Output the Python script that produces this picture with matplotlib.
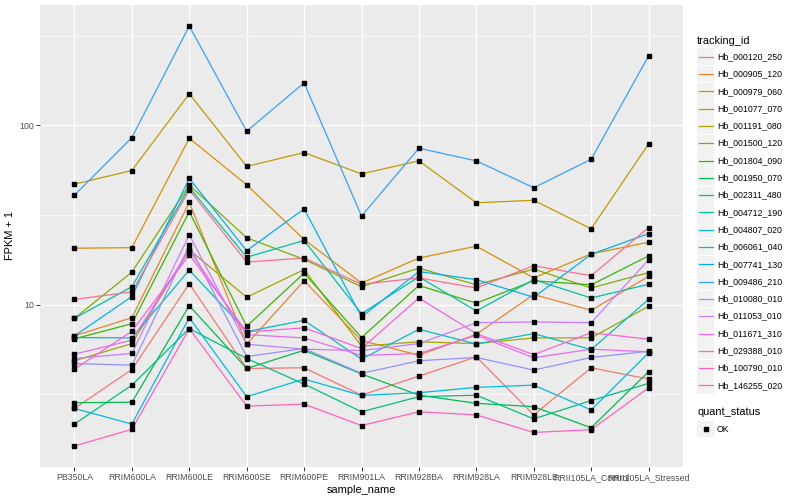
import matplotlib
matplotlib.use("Agg")
import matplotlib.pyplot as plt
from matplotlib.patches import Rectangle
from matplotlib.lines import Line2D
from matplotlib.ticker import FixedLocator, NullFormatter
import numpy as np

plt.rcParams['font.family'] = ['Liberation Sans', 'DejaVu Sans']

samples = ["PB350LA", "RRIM600LA", "RRIM600LE", "RRIM600SE", "RRIM600PE", "RRIM901LA",
           "RRIM928BA", "RRIM928LA", "RRIM928LE", "RRII105LA_Control", "RRII105LA_Stressed"]

tracking_ids = ["Hb_000120_250", "Hb_000905_120", "Hb_000979_060", "Hb_001077_070",
                "Hb_001191_080", "Hb_001500_120", "Hb_001804_090", "Hb_001950_070",
                "Hb_002311_480", "Hb_004712_190", "Hb_004807_020", "Hb_006061_040",
                "Hb_007741_130", "Hb_009486_210", "Hb_010080_010", "Hb_011053_010",
                "Hb_011671_310", "Hb_029388_010", "Hb_100790_010", "Hb_146255_020"]

colors = ["#F8766D", "#EA8331", "#D89000", "#C09B00", "#A3A500", "#7CAE00", "#39B600",
          "#00BB4E", "#00BF7D", "#00C1A3", "#00BFC4", "#00BAE0", "#00B0F6", "#35A2FF",
          "#9590FF", "#C77CFF", "#E76BF3", "#FA62DB", "#FF62BC", "#FF6C91"]

# FPKM + 1 values, one list per tracking_id (order = samples)
hb_000120_250 = [2.64, 4.35, 13.1, 4.41, 4.45, 3.13, 4.00, 5.12, 2.43, 4.45, 3.85]
hb_000905_120 = [6.70, 8.47, 37.2, 6.02, 13.6, 6.31, 5.23, 6.84, 11.4, 9.30, 14.4]
hb_000979_060 = [20.65, 20.8, 84.7, 46.6, 23.1, 13.2, 18.2, 21.2, 14.1, 19.2, 22.3]
hb_001077_070 = [47.0, 56.0, 150.0, 59.0, 70.5, 53.6, 63.4, 37.0, 38.2, 26.5, 78.7]
hb_001191_080 = [4.87, 6.07, 20.2, 11.0, 15.7, 5.87, 6.21, 6.07, 6.53, 6.53, 9.79]
hb_001500_120 = [8.39, 15.2, 46.4, 23.6, 17.9, 12.6, 16.0, 12.9, 15.8, 12.4, 15.1]
hb_001804_090 = [6.45, 7.84, 33.0, 7.57, 15.0, 6.56, 12.8, 10.2, 13.6, 12.9, 18.7]
hb_001950_070 = [2.84, 2.86, 9.87, 4.41, 5.57, 4.11, 3.13, 2.82, 2.70, 2.06, 4.23]
hb_002311_480 = [2.16, 3.56, 7.36, 5.01, 3.61, 2.53, 3.07, 3.13, 2.31, 2.92, 3.64]
hb_004712_190 = [8.39, 12.6, 45.1, 18.4, 22.8, 8.91, 14.3, 9.23, 13.8, 10.9, 13.0]
hb_004807_020 = [6.56, 6.53, 15.6, 7.08, 8.18, 4.97, 7.29, 6.04, 6.90, 5.62, 10.7]
hb_006061_040 = [2.64, 2.16, 8.47, 3.07, 3.85, 3.12, 3.23, 3.46, 3.56, 2.59, 5.39]
hb_007741_130 = [6.70, 11.1, 50.6, 20.0, 34.2, 8.55, 15.3, 13.8, 11.0, 19.1, 24.9]
hb_009486_210 = [40.8, 85.5, 358.0, 92.7, 172.6, 31.2, 74.5, 63.4, 44.9, 64.7, 243.8]
hb_010080_010 = [4.70, 4.60, 21.4, 5.14, 5.70, 4.14, 4.87, 5.08, 4.32, 5.08, 5.50]
hb_011053_010 = [5.01, 5.35, 24.5, 6.02, 5.65, 5.55, 6.07, 7.94, 8.01, 7.94, 17.8]
hb_011671_310 = [5.30, 6.34, 20.2, 6.81, 6.53, 5.21, 5.35, 6.75, 5.06, 5.65, 5.46]
hb_029388_010 = [4.37, 7.11, 19.0, 7.05, 7.43, 5.70, 10.9, 6.90, 5.27, 6.98, 6.42]
hb_100790_010 = [1.63, 2.02, 7.36, 2.72, 2.79, 2.12, 2.53, 2.43, 1.94, 2.01, 3.44]
hb_146255_020 = [10.7, 11.8, 43.7, 17.3, 18.2, 13.0, 14.1, 12.4, 16.5, 14.5, 26.9]

series = [hb_000120_250, hb_000905_120, hb_000979_060, hb_001077_070, hb_001191_080,
          hb_001500_120, hb_001804_090, hb_001950_070, hb_002311_480, hb_004712_190,
          hb_004807_020, hb_006061_040, hb_007741_130, hb_009486_210, hb_010080_010,
          hb_011053_010, hb_011671_310, hb_029388_010, hb_100790_010, hb_146255_020]

W, H = 800, 500
fig = plt.figure(figsize=(W / 100, H / 100), dpi=100)
fig.patch.set_facecolor("white")


def fx(x):
    return x / W


def fy(y):
    return 1 - y / H


pl, pr, pt, pb = 40, 683, 5, 467
ax = fig.add_axes([fx(pl), fy(pb), fx(pr - pl), (pb - pt) / H])
ax.set_facecolor("#EBEBEB")
for s in ax.spines.values():
    s.set_visible(False)

x = np.arange(len(samples))
for vals, c in zip(series, colors):
    ax.plot(x, vals, color=c, lw=0.9, zorder=2, solid_capstyle="butt")
for vals in series:
    ax.plot(x, vals, ls="none", marker="s", ms=2.6, color="black", zorder=3)

ax.set_yscale("log")
allv = np.log10(np.concatenate([np.array(v) for v in series]))
lo, hi = allv.min(), allv.max()
pad = 0.05 * (hi - lo)
ax.set_ylim(10 ** (lo - pad), 10 ** (hi + pad))
ax.set_xlim(-0.6, len(samples) - 1 + 0.6)

ax.yaxis.set_major_locator(FixedLocator([10, 100]))
ax.set_yticklabels(["10", "100"])
ax.yaxis.set_minor_locator(FixedLocator([10 ** 0.5, 10 ** 1.5, 10 ** 2.5]))
ax.yaxis.set_minor_formatter(NullFormatter())
ax.set_xticks(x)
ax.set_xticklabels(samples)

ax.grid(which="major", color="white", lw=1.0, zorder=0)
ax.grid(which="minor", axis="y", color="white", lw=0.5, zorder=0)
ax.set_axisbelow(True)

ax.tick_params(which="major", length=2.7, width=0.7, color="#333333",
               labelcolor="#4D4D4D", labelsize=6.3, pad=1.5)
ax.tick_params(which="minor", length=0)

ax.set_xlabel("sample_name", fontsize=7.9, color="black", labelpad=2.5)
ax.set_ylabel("FPKM + 1", fontsize=7.9, color="black", labelpad=3)

# legend (ggplot style)
fs_title, fs_text = 7.9, 6.3
fig.text(fx(697), fy(40.7), "tracking_id", fontsize=fs_title, va="center", ha="left")
row0, step = 56.7, 17.3
for i, (lab, c) in enumerate(zip(tracking_ids, colors)):
    yc = row0 + step * i
    fig.patches.append(Rectangle((fx(697), fy(yc + 8.4)), 17 / W, 16.8 / H,
                                 transform=fig.transFigure, facecolor="#F2F2F2",
                                 edgecolor="none"))
    fig.lines.append(Line2D([fx(698.5), fx(712.5)], [fy(yc), fy(yc)],
                            transform=fig.transFigure, color=c, lw=0.9))
    fig.text(fx(717), fy(yc), lab, fontsize=fs_text, va="center", ha="left")

fig.text(fx(697), fy(412.3), "quant_status", fontsize=fs_title, va="center", ha="left")
yc = 429
fig.patches.append(Rectangle((fx(697), fy(yc + 8.4)), 17 / W, 16.8 / H,
                             transform=fig.transFigure, facecolor="#F2F2F2",
                             edgecolor="none"))
fig.lines.append(Line2D([fx(705.5)], [fy(yc)], transform=fig.transFigure,
                        ls="none", marker="s", ms=2.6, color="black"))
fig.text(fx(717), fy(yc), "OK", fontsize=fs_text, va="center", ha="left")

fig.savefig("out.png", dpi=100)
